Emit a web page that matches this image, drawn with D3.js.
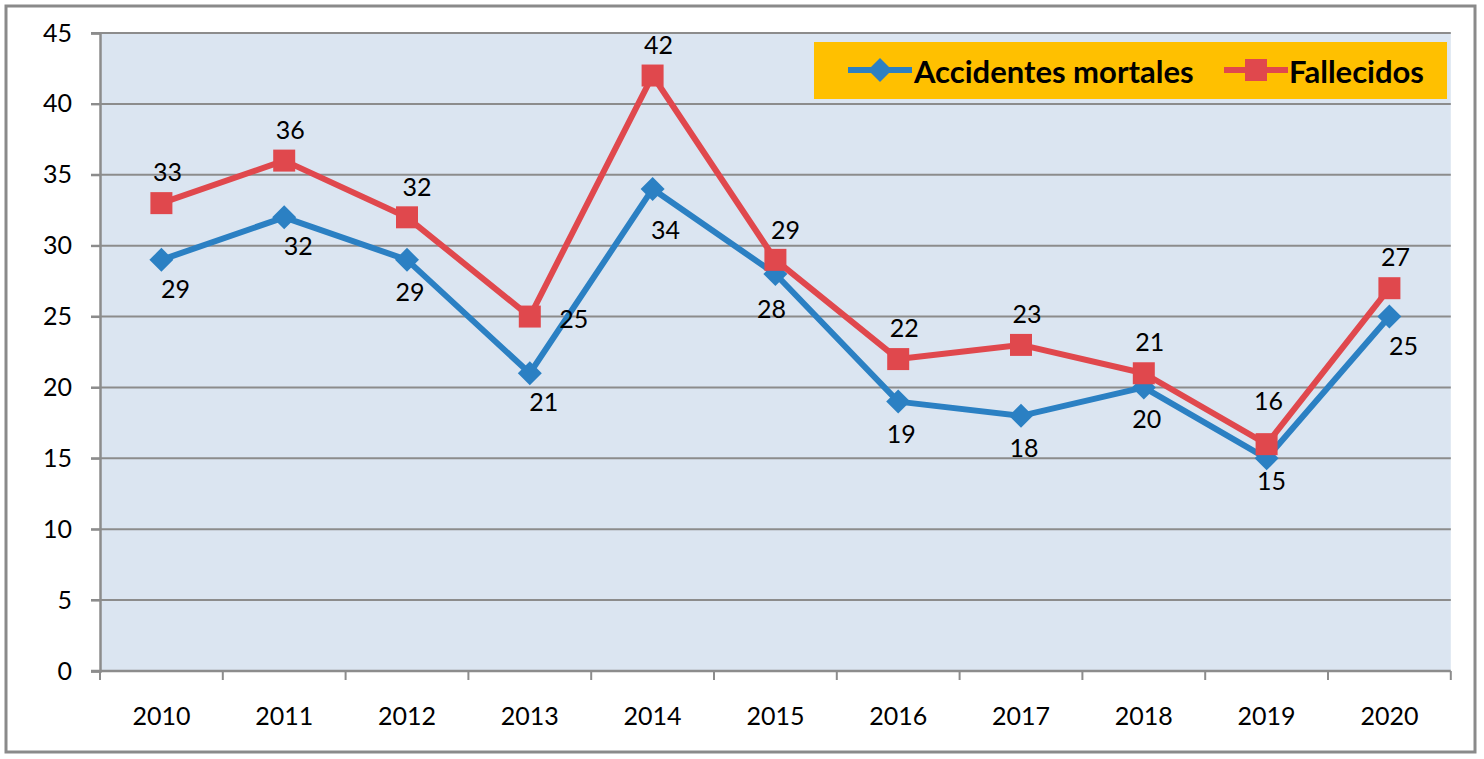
<!DOCTYPE html>
<html><head><meta charset="utf-8">
<script src="https://cdn.jsdelivr.net/npm/d3@7"></script>
<style>body{margin:0;background:#fff}svg{display:block}</style>
</head><body>
<svg id="c" width="1484" height="759"></svg>
<script>
const years = ["2010","2011","2012","2013","2014","2015","2016","2017","2018","2019","2020"];
const accidentes = [29,32,29,21,34,28,19,18,20,15,25];
const fallecidos = [33,36,32,25,42,29,22,23,21,16,27];
const accPlace = ["br","br","b","br","bb","bl","b","b","b","bs","br"];
const falPlace = ["a","a","ar","r","a","ar","a","a","a","aa","a"];
const yTicks = [0,5,10,15,20,25,30,35,40,45];
const seriesNames = ["Accidentes mortales","Fallecidos"];

const svg = d3.select("#c");
const L=100,R=1450.8,T=33,B=671;
const font="Lato, 'Open Sans', sans-serif";
const blue="#2b80c3", red="#e0484d", grid="#8c8c8c";

svg.append("rect").attr("x",6).attr("y",6).attr("width",1469).attr("height",746)
  .attr("fill","#fff").attr("stroke","#8a8a8a").attr("stroke-width",3);

const x = d3.scaleBand().domain(years).range([L,R]).padding(0);
const y = d3.scaleLinear().domain([0,45]).range([B,T]);
const cx = d=>x(d)+x.bandwidth()/2;

svg.append("rect").attr("x",L).attr("y",T).attr("width",R-L).attr("height",B-T).attr("fill","#dbe5f1");

svg.append("g").selectAll("line").data(yTicks.filter(t=>t>0)).join("line")
  .attr("x1",L-9).attr("x2",R).attr("y1",d=>y(d)).attr("y2",d=>y(d))
  .attr("stroke",grid).attr("stroke-width",2);

const ya = svg.append("g").attr("transform",`translate(${L},0)`)
  .call(d3.axisLeft(y).tickValues(yTicks).tickSize(9).tickPadding(19));
ya.select(".domain").attr("stroke",grid).attr("stroke-width",2.5);
ya.selectAll(".tick line").attr("stroke",grid).attr("stroke-width",2);
ya.selectAll("text").attr("font-family",font).attr("font-size",25).attr("fill","#000");

const xa = svg.append("g").attr("transform",`translate(0,${B})`)
  .call(d3.axisBottom(x).tickSize(0).tickPadding(36));
xa.select(".domain").remove();
xa.selectAll("text").attr("font-family",font).attr("font-size",25).attr("fill","#000");
svg.append("line").attr("x1",L-9).attr("x2",R).attr("y1",B).attr("y2",B).attr("stroke",grid).attr("stroke-width",2.5);
const edges = years.map(d=>x(d)).concat([R]);
svg.append("g").selectAll("line").data(edges).join("line")
  .attr("x1",d=>d).attr("x2",d=>d).attr("y1",B).attr("y2",B+9)
  .attr("stroke",grid).attr("stroke-width",2);

const line = d3.line().x((d,i)=>cx(years[i])).y(d=>y(d));

function drawSeries(vals,color,shape){
  svg.append("path").datum(vals).attr("d",line).attr("fill","none")
    .attr("stroke",color).attr("stroke-width",6).attr("stroke-linejoin","round");
  svg.append("g").selectAll("path").data(vals).join("path")
    .attr("transform",(d,i)=>`translate(${cx(years[i])},${y(d)})`)
    .attr("d",shape).attr("fill",color);
}
const diamond = "M0,-12L12,0L0,12L-12,0Z";
const square = "M-11,-11H11V11H-11Z";
drawSeries(accidentes,blue,diamond);
drawSeries(fallecidos,red,square);

const off = {a:[6,-32],aa:[2,-44],ar:[10,-31],r:[44,1],b:[3,31],bs:[5,22],bb:[13,40],br:[14,28],bl:[-4,34]};
function labels(vals,place){
  svg.append("g").selectAll("text").data(vals).join("text")
    .attr("x",(d,i)=>cx(years[i])+off[place[i]][0])
    .attr("y",(d,i)=>y(d)+off[place[i]][1])
    .attr("text-anchor","middle").attr("dominant-baseline","central")
    .attr("font-family",font).attr("font-size",25).attr("fill","#000")
    .text(d=>d);
}
labels(accidentes,accPlace);
labels(fallecidos,falPlace);

const lg = svg.append("g");
lg.append("rect").attr("x",814).attr("y",42).attr("width",633).attr("height",57).attr("fill","#ffc000");
const items=[{name:seriesNames[0],color:blue,shape:diamond,x0:848,tx:914},{name:seriesNames[1],color:red,shape:square,x0:1224,tx:1289}];
items.forEach(it=>{
  lg.append("line").attr("x1",it.x0).attr("x2",it.x0+64).attr("y1",70).attr("y2",70).attr("stroke",it.color).attr("stroke-width",6);
  lg.append("path").attr("transform",`translate(${it.x0+32},70)`).attr("d",it.shape).attr("fill",it.color);
  lg.append("text").attr("x",it.tx).attr("y",71).attr("dominant-baseline","central")
    .attr("font-family",font).attr("font-weight","bold").attr("font-size",31).attr("fill","#000").text(it.name);
});
</script>
</body></html>
